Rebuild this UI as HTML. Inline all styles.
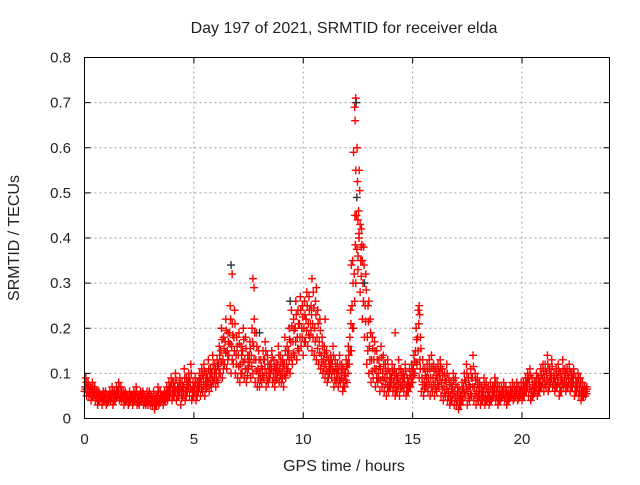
<!DOCTYPE html>
<html><head><meta charset="utf-8"><style>
body{margin:0;background:#fff;}
svg text{font-family:"Liberation Sans",sans-serif;font-size:15px;fill:#222;}
svg text.big{font-size:16px;}
</style></head><body>
<svg id="chart" width="640" height="480" viewBox="0 0 640 480" xmlns="http://www.w3.org/2000/svg">
<rect width="640" height="480" fill="#fff"/>
<text class="big" x="344" y="33" text-anchor="middle">Day 197 of 2021, SRMTID for receiver elda</text>
<text class="big" transform="translate(19,238) rotate(-90)" text-anchor="middle">SRMTID / TECUs</text>
<text class="big" x="344" y="471" text-anchor="middle">GPS time / hours</text>
<g id="grid"></g>
<g id="marks"></g>
<rect x="84.5" y="57.5" width="525" height="361" fill="none" stroke="#000" stroke-width="1"/>
<g id="ticks"></g>
</svg>
<script>
const xTicks=[0,5,10,15,20];
const yTicks=[0,0.1,0.2,0.3,0.4,0.5,0.6,0.7,0.8];
const yTickLabels=["0","0.1","0.2","0.3","0.4","0.5","0.6","0.7","0.8"];
const lo=[.06,.05,.05,.04,.05,.04,.03,.04,.03,.04,.03,.04,.04,.03,.04,.05,.04,.04,.03,.04,.03,.04,.03,.04,.03,.03,.04,.03,.03,.03,.03,.03,.02,.03,.03,.04,.03,.04,.04,.05,.04,.05,.04,.05,.03,.05,.04,.06,.05,.04,.05,.04,.06,.05,.06,.05,.07,.06,.07,.08,.07,.08,.10,.09,.12,.11,.14,.10,.12,.10,.09,.08,.10,.09,.08,.11,.09,.10,.08,.07,.07,.08,.09,.07,.08,.10,.08,.07,.09,.08,.08,.07,.09,.11,.10,.12,.14,.13,.15,.16,.14,.17,.16,.18,.15,.14,.13,.12,.11,.10,.09,.08,.10,.09,.07,.08,.07,.08,.06,.07,.08,.12,.15,.20,.30,.36,.28,.22,.18,.12,.10,.08,.09,.07,.08,.06,.07,.06,.05,.06,.07,.06,.05,.06,.05,.07,.06,.05,.06,.07,.08,.10,.12,.09,.06,.05,.07,.06,.05,.06,.05,.06,.07,.05,.04,.05,.04,.03,.04,.03,.03,.02,.03,.04,.05,.03,.04,.05,.04,.03,.04,.03,.04,.03,.04,.03,.04,.05,.04,.03,.04,.05,.04,.03,.04,.05,.04,.05,.04,.05,.04,.05,.06,.05,.04,.05,.06,.05,.06,.07,.06,.07,.06,.08,.07,.06,.07,.05,.06,.07,.06,.07,.06,.07,.05,.06,.05,.04,.05,.05];
const mid=[.07,.07,.06,.06,.06,.05,.05,.05,.05,.05,.04,.05,.05,.05,.05,.06,.05,.05,.05,.05,.04,.05,.05,.05,.04,.05,.05,.04,.04,.05,.04,.04,.04,.05,.04,.05,.05,.05,.06,.07,.06,.07,.06,.07,.06,.07,.06,.08,.08,.06,.07,.06,.08,.08,.09,.08,.09,.09,.10,.10,.10,.12,.15,.13,.17,.15,.19,.16,.18,.14,.14,.12,.15,.13,.11,.14,.14,.16,.13,.11,.10,.11,.13,.10,.10,.12,.10,.10,.12,.11,.10,.12,.12,.15,.17,.17,.20,.18,.21,.20,.20,.22,.21,.21,.21,.20,.18,.17,.14,.13,.12,.10,.12,.12,.10,.10,.10,.10,.08,.10,.12,.18,.25,.32,.45,.46,.35,.30,.25,.18,.16,.13,.13,.11,.10,.11,.10,.09,.09,.08,.09,.08,.07,.09,.08,.08,.09,.07,.08,.09,.11,.15,.18,.13,.09,.08,.09,.09,.09,.09,.08,.09,.10,.08,.07,.08,.06,.05,.07,.06,.05,.04,.05,.07,.08,.06,.07,.09,.07,.06,.06,.05,.06,.05,.05,.05,.05,.07,.06,.05,.05,.06,.05,.05,.05,.06,.05,.06,.05,.06,.06,.07,.08,.08,.06,.06,.08,.07,.08,.09,.09,.10,.08,.10,.08,.08,.09,.07,.09,.09,.08,.09,.08,.09,.07,.08,.07,.06,.06,.06];
const hi=[.09,.08,.07,.08,.07,.06,.06,.05,.06,.06,.05,.06,.07,.06,.07,.08,.07,.06,.06,.05,.06,.05,.06,.07,.05,.06,.06,.05,.06,.06,.05,.06,.05,.07,.06,.05,.06,.07,.08,.09,.08,.10,.07,.09,.08,.11,.09,.10,.12,.08,.09,.08,.10,.11,.12,.10,.13,.11,.14,.12,.13,.16,.20,.18,.22,.19,.25,.21,.24,.18,.19,.16,.20,.18,.14,.17,.20,.22,.19,.15,.13,.15,.17,.14,.12,.15,.13,.12,.16,.14,.13,.18,.16,.20,.24,.22,.26,.24,.27,.25,.26,.28,.27,.25,.28,.26,.24,.22,.18,.16,.15,.13,.14,.16,.13,.12,.14,.12,.11,.13,.16,.24,.35,.45,.60,.55,.42,.38,.32,.25,.22,.18,.17,.15,.13,.16,.14,.12,.13,.10,.12,.11,.10,.13,.11,.10,.12,.09,.11,.12,.14,.20,.24,.18,.13,.11,.12,.13,.14,.12,.11,.12,.13,.11,.10,.12,.09,.08,.10,.09,.07,.06,.08,.10,.12,.09,.11,.14,.10,.09,.08,.07,.09,.08,.07,.08,.07,.09,.08,.07,.07,.08,.07,.06,.07,.08,.07,.08,.07,.08,.08,.09,.10,.11,.09,.08,.10,.09,.11,.12,.12,.14,.11,.13,.10,.11,.12,.10,.13,.11,.11,.12,.10,.11,.09,.10,.09,.08,.07,.07];
const spikeT=[6.7,6.75,7.7,7.75,12.4,12.42,12.35,12.37,12.3,12.4,12.45,12.5,12.6,12.55,12.7,12.8,13.0,12.2,10.4,10.6,9.4,15.3,15.32,11.0,14.2,8.0,12.65,12.5];
const spikeV=[.34,.32,.31,.29,.71,.70,.69,.66,.59,.55,.49,.44,.43,.40,.35,.30,.26,.34,.31,.29,.26,.25,.23,.22,.19,.19,.38,.33];
const X0=84.5,X1=609.5,Y0=418.5,Y1=57.5,XMAX=24,YMAX=0.8;
function xs(v){return X0+(X1-X0)*v/XMAX;}
function ys(v){return Y0-(Y0-Y1)*v/YMAX;}
const NS="http://www.w3.org/2000/svg";
const grid=document.getElementById('grid'),ticks=document.getElementById('ticks'),marks=document.getElementById('marks');
function line(p,x1,y1,x2,y2,st,da){const l=document.createElementNS(NS,'line');l.setAttribute('x1',x1);l.setAttribute('y1',y1);l.setAttribute('x2',x2);l.setAttribute('y2',y2);l.setAttribute('stroke',st);if(da)l.setAttribute('stroke-dasharray',da);p.appendChild(l);return l;}
xTicks.forEach(v=>{const x=xs(v);
 if(v>0){const g=line(grid,x,Y0,x,Y1,'#a0a0a0','2,3');
 
 }
 const a=line(ticks,x,Y0,x,Y0-6,'#000');
 
 const b=line(ticks,x,Y1,x,Y1+6,'#000');
 
 const t=document.createElementNS(NS,'text');t.setAttribute('x',x);t.setAttribute('y',444);t.setAttribute('text-anchor','middle');t.textContent=v;
 
 ticks.appendChild(t);});
yTicks.forEach((v,i)=>{const y=ys(v);
 if(v>0&&v<YMAX){const g=line(grid,X0,y,X1,y,'#a0a0a0','2,3');
 
 }
 const a=line(ticks,X0,y,X0+6,y,'#000');
 
 const b=line(ticks,X1,y,X1-6,y,'#000');
 
 const t=document.createElementNS(NS,'text');t.setAttribute('x',71);t.setAttribute('y',y+5);t.setAttribute('text-anchor','end');t.textContent=yTickLabels[i];
 
 ticks.appendChild(t);});
function plus(t,v,col){const x=xs(t),y=ys(v);const p=document.createElementNS(NS,'path');
 p.setAttribute('d',`M${x-4},${y}H${x+4}M${x},${y-4}V${y+4}`);p.setAttribute('stroke',col);p.setAttribute('stroke-width','1.4');
 
 marks.appendChild(p);}
lo.forEach((v,i)=>{const t=i*0.1;
 plus(t,v,'#ff0000');plus(t+0.03,mid[i],'#ff0000');plus(t+0.06,hi[i],'#ff0000');
 plus(t+0.05,(lo[i]+mid[i])/2,'#ff0000');plus(t+0.08,(mid[i]+hi[i])/2,'#ff0000');});
spikeT.forEach((t,i)=>plus(t,spikeV[i],i%5==0?'#333':'#ff0000'));
</script>
</body></html>
